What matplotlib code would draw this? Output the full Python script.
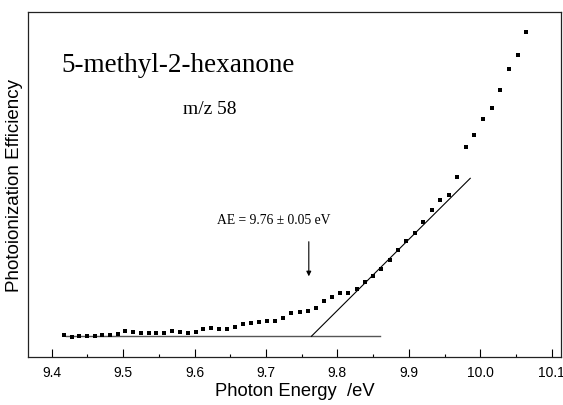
import matplotlib.pyplot as plt
from matplotlib.ticker import MultipleLocator, NullLocator

# photon energy (eV) and photoionization efficiency (arb. units, baseline = 0)
energy = [9.4176, 9.4280, 9.4386, 9.4494, 9.4601, 9.4708, 9.4820, 9.4927,
          9.5029, 9.5141, 9.5249, 9.5357, 9.5463, 9.5575, 9.5687, 9.5794,
          9.5902, 9.6015, 9.6119, 9.6232, 9.6340, 9.6452, 9.6564, 9.6680,
          9.6787, 9.6903, 9.7021, 9.7127, 9.7242, 9.7357, 9.7470, 9.7582,
          9.7694, 9.7811, 9.7924, 9.8036, 9.8154, 9.8270, 9.8386, 9.8498,
          9.8615, 9.8731, 9.8848, 9.8965, 9.9081, 9.9203, 9.9319, 9.9441,
          9.9557, 9.9676, 9.9799, 9.9916, 10.0032, 10.0158, 10.0274, 10.0400,
          10.0522, 10.0638]
pie = [0.016, -0.004, 0.000, 0.003, 0.000, 0.013, 0.013, 0.020,
       0.050, 0.046, 0.030, 0.030, 0.033, 0.036, 0.053, 0.040,
       0.033, 0.046, 0.071, 0.083, 0.073, 0.073, 0.093, 0.120,
       0.130, 0.140, 0.153, 0.150, 0.188, 0.231, 0.245, 0.251,
       0.288, 0.351, 0.398, 0.431, 0.433, 0.470, 0.543, 0.606,
       0.673, 0.763, 0.866, 0.950, 1.030, 1.143, 1.266, 1.363,
       1.413, 1.596, 1.896, 2.010, 2.173, 2.283, 2.460, 2.670,
       2.813, 3.046]

# baseline and linear fit through the onset
base_x = [9.42, 9.859]
base_y = [0.0, 0.0]
fit_x = [9.7636, 9.986]
fit_y = [0.0, 1.58]

ae = 9.76

fig = plt.figure(figsize=(5.63, 4.06), dpi=100)
ax = fig.add_axes([0.0506, 0.1182, 0.9458, 0.8505])

ax.plot(base_x, base_y, color='#555555', lw=1.0)
ax.plot(fit_x, fit_y, color='black', lw=0.8)
ax.plot(energy, pie, 's', color='black', ms=3.3, mec='black', mew=0)

ax.annotate('', xy=(ae, 0.60), xytext=(ae, 0.946),
            arrowprops=dict(arrowstyle='-|>', color='black', lw=0.8,
                            mutation_scale=7, shrinkA=0, shrinkB=0))

serif = ['Liberation Serif', 'DejaVu Serif']
ax.text(9.414, 2.656, '5-methyl-2-hexanone', family=serif, fontsize=19.5,
        ha='left', va='baseline')
ax.text(9.584, 2.233, 'm/z 58', family=serif, fontsize=14, ha='left',
        va='baseline')
ax.text(9.6315, 1.133, 'AE = 9.76 \u00b1 0.05 eV', family=serif, fontsize=9.8,
        ha='left', va='baseline')

ax.set_xlim(9.3676, 10.113)
ax.set_ylim(-0.207, 3.246)
ax.xaxis.set_major_locator(MultipleLocator(0.1))
ax.xaxis.set_minor_locator(MultipleLocator(0.05))
ax.yaxis.set_major_locator(NullLocator())
ax.tick_params(axis='x', which='major', direction='in', length=5.5, width=0.8,
               pad=6, labelsize=10, top=False)
ax.tick_params(axis='x', which='minor', direction='in', length=2, width=0.8,
               top=False)
for lab in ax.get_xticklabels():
    lab.set_family(['Liberation Sans', 'DejaVu Sans'])
ax.xaxis.set_major_formatter(plt.FuncFormatter(lambda v, p: '%.1f' % v))

for s in ax.spines.values():
    s.set_linewidth(0.9)
    s.set_color('#222222')

sans = ['Liberation Sans', 'DejaVu Sans']
ax.set_xlabel('Photon Energy  /eV', family=sans, fontsize=13.2, labelpad=2)
ax.set_ylabel('Photoionization Efficiency', family=sans, fontsize=13.5,
              labelpad=4)

fig.savefig('out.png', dpi=100)
